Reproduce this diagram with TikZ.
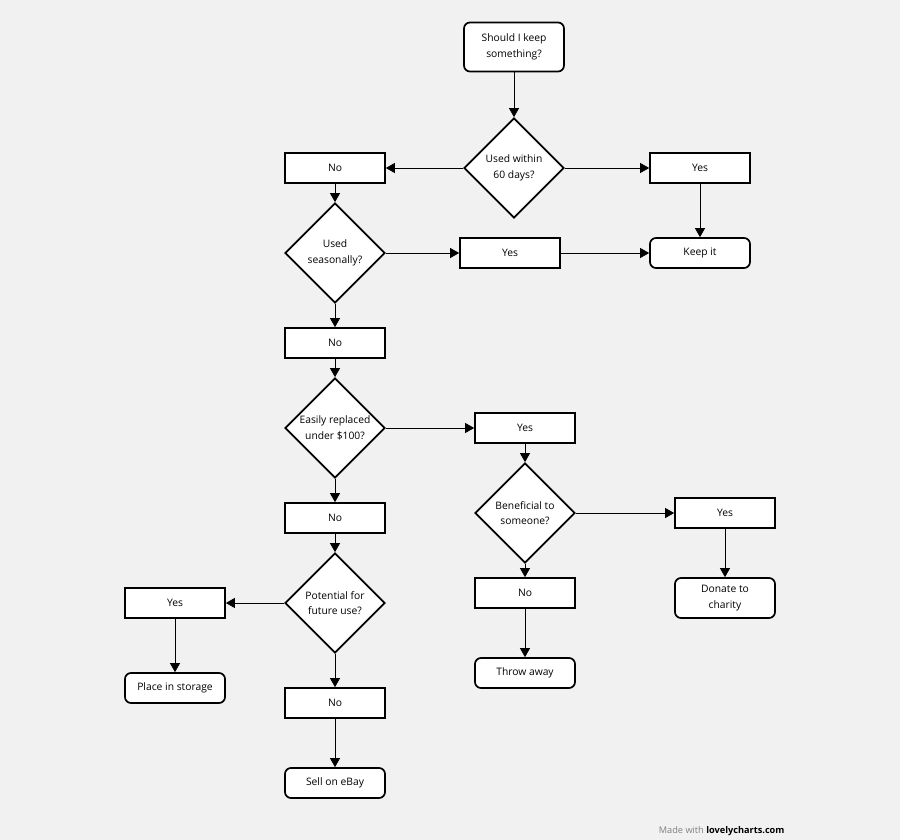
\documentclass[tikz,border=0pt]{standalone}
\usepackage{fontspec}
\setmainfont{Open Sans}
\usetikzlibrary{shapes.geometric,arrows.meta}
\definecolor{bgc}{HTML}{F1F1F1}
\begin{document}
\begin{tikzpicture}[x=1pt,y=-1pt,
  every node/.style={font=\fontsize{10.3}{15.5}\selectfont, align=center},
  box/.style={draw, line width=1.7pt, fill=white, minimum width=100pt, minimum height=30pt, inner sep=0pt},
  rbox/.style={box, rounded corners=6pt},
  dec/.style={draw, diamond, line width=1.7pt, fill=white, minimum width=100pt, minimum height=100pt, inner sep=0pt, aspect=1},
  arr/.style={line width=0.8pt, -{Triangle[length=9pt,width=10pt]}}]
\fill[bgc] (0,0) rectangle (900,840);
\useasboundingbox (0,0) rectangle (900,840);

\node[rbox, minimum height=49pt] (start) at (514,47) {Should I keep\\something?};
\node[dec] (d1) at (514,168) {Used within\\60 days?};
\node[box] (no1) at (335,168) {No};
\node[box] (yes1) at (700,168) {Yes};
\node[dec] (d2) at (335,253) {Used\\seasonally?};
\node[box] (yes2) at (510,253) {Yes};
\node[rbox] (keep) at (700,253) {Keep it};
\node[box] (no2) at (335,343) {No};
\node[dec] (d3) at (335,428) {Easily replaced\\under \$100?};
\node[box] (yes3) at (525,428) {Yes};
\node[box] (no3) at (335,518) {No};
\node[dec] (d4) at (335,603) {Potential for\\future use?};
\node[box] (yes4) at (175,603) {Yes};
\node[rbox] (store) at (175,688) {Place in storage};
\node[box] (no4) at (335,703) {No};
\node[rbox] (ebay) at (335,783) {Sell on eBay};
\node[dec] (d5) at (525,513) {Beneficial to\\someone?};
\node[box] (yes5) at (725,513) {Yes};
\node[rbox, minimum height=40pt] (donate) at (725,598) {Donate to\\charity};
\node[box] (no5) at (525,593) {No};
\node[rbox] (throw) at (525,673) {Throw away};

\draw[arr] (start) -- (d1);
\draw[arr] (d1.west) -- (no1.east);
\draw[arr] (d1.east) -- (yes1.west);
\draw[arr] (yes1) -- (keep);
\draw[arr] (no1) -- (d2);
\draw[arr] (d2.east) -- (yes2.west);
\draw[arr] (yes2.east) -- (keep.west);
\draw[arr] (d2) -- (no2);
\draw[arr] (no2) -- (d3);
\draw[arr] (d3.east) -- (yes3.west);
\draw[arr] (d3) -- (no3);
\draw[arr] (no3) -- (d4);
\draw[arr] (d4.west) -- (yes4.east);
\draw[arr] (yes4) -- (store);
\draw[arr] (d4) -- (no4);
\draw[arr] (no4) -- (ebay);
\draw[arr] (yes3) -- (d5);
\draw[arr] (d5.east) -- (yes5.west);
\draw[arr] (yes5) -- (donate);
\draw[arr] (d5) -- (no5);
\draw[arr] (no5) -- (throw);

\node[anchor=east, font=\fontsize{9.2}{11}\selectfont] (credit) at (788,831) {\textcolor{gray}{Made with} \textbf{lovelycharts.com}};
\end{tikzpicture}
\end{document}
